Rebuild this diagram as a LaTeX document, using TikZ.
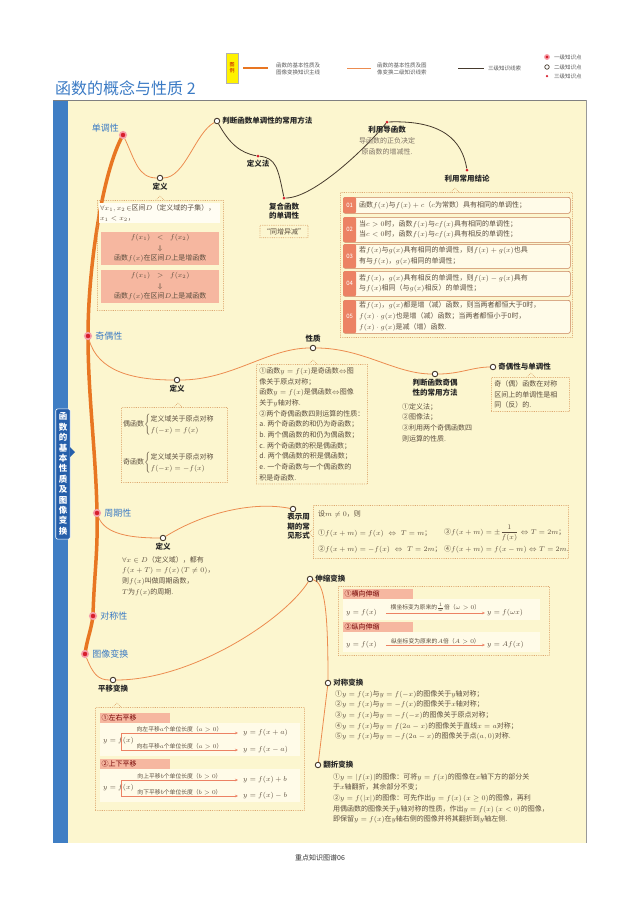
\documentclass[tikz,border=0pt]{standalone}
\usepackage{amsmath}
\usepackage{fontspec}
\setmainfont{Noto Sans CJK SC}
\usepackage{tikz}
\usetikzlibrary{positioning, arrows.meta}

\definecolor{panelbg}{RGB}{252,246,207}
\definecolor{bandblue}{RGB}{63,126,196}
\definecolor{tabblue}{RGB}{38,95,170}
\definecolor{titleblue}{RGB}{58,122,196}
\definecolor{mainor}{RGB}{232,118,34}
\definecolor{subor}{RGB}{236,140,80}
\definecolor{darkln}{RGB}{70,58,45}
\definecolor{redpt}{RGB}{215,30,45}
\definecolor{pinkpt}{RGB}{246,160,170}
\definecolor{txt}{RGB}{92,78,62}
\definecolor{dotc}{RGB}{214,150,90}
\definecolor{salmon}{RGB}{246,183,160}
\definecolor{salmonD}{RGB}{236,130,100}
\definecolor{cream}{RGB}{255,251,232}
\definecolor{itemdraw}{RGB}{200,130,90}

\newcommand{\bodysize}{\fontsize{7}{10.7}\selectfont}
\newcommand{\labsize}{\fontsize{7.5}{9.5}\selectfont\bfseries}

\pgfdeclarelayer{back}
\pgfdeclarelayer{lines}
\pgfsetlayers{back,lines,main}

\begin{document}
\begin{tikzpicture}[x=1pt, y=-1pt,
  lvone/.style={circle, minimum size=6.5pt, inner sep=0pt, fill=redpt, draw=pinkpt, line width=1.6pt},
  lvtwo/.style={circle, minimum size=5.5pt, inner sep=0pt, fill=white, draw=darkln, line width=0.9pt},
  lvthree/.style={circle, minimum size=3pt, inner sep=0pt, fill=redpt},
  onelab/.style={text=titleblue, font=\fontsize{9}{10}\selectfont, inner sep=1pt},
  lab/.style={text=black!85, font=\labsize, align=center, inner sep=1pt},
  body/.style={text=txt, font=\bodysize, align=left, inner sep=0pt},
  legtxt/.style={text=black!65, font=\fontsize{5.5}{6.8}\selectfont, align=left, inner sep=0pt},
  dotbox/.style={draw=dotc, line width=0.9pt, line cap=round, dash pattern=on 0pt off 1.8pt},
  mainline/.style={line width=3.5pt, draw=mainor, line cap=round},
  subline/.style={line width=0.8pt, draw=subor},
  thirdline/.style={line width=0.8pt, draw=darkln},
  arr/.style={-{Stealth[length=3pt,width=2.5pt]}, draw=salmonD, line width=0.6pt},
  arrlab/.style={text=txt, font=\fontsize{5.8}{7}\selectfont, inner sep=0.8pt},
  itembox/.style={anchor=north west, rounded corners=2pt, draw=itemdraw, line width=0.6pt, fill=cream, minimum width=227pt, inner sep=0pt},
  numcell/.style={anchor=north west, fill=salmonD, text=white, minimum width=13pt, inner sep=0pt, rounded corners=2pt, font=\fontsize{6}{7}\selectfont},
  headbar/.style={anchor=north west, fill=salmon, text=red!45!black, font=\bodysize, text width=67pt, inner sep=1.5pt, align=left},
  rowbar/.style={anchor=north west, fill=cream, inner sep=0pt}
]
\useasboundingbox (0,0) rectangle (640,898);

\begin{pgfonlayer}{back}
\fill[panelbg] (53,100) rectangle (586,843);
\fill[bandblue] (53,100) rectangle (68,843);
\draw[black!50, line width=0.8pt] (53,100) -- (587,100);
\draw[black!40, line width=0.6pt] (586,100) -- (586,843);
\end{pgfonlayer}

\node[fill=yellow, draw=black!30, line width=0.3pt, minimum width=12pt, minimum height=30pt, inner sep=0pt, align=center, text=red!75!black, font=\fontsize{5}{6}\selectfont] (legbox) at (232,68) {图\\例};
\draw[mainor, line width=2.5pt] (243,68) -- (268,68);
\node[legtxt, anchor=west] (legmain) at (276,69) {函数的基本性质及\\图像变换知识主线};
\draw[subline] (347,68) -- (371,68);
\node[legtxt, anchor=west] (legsub) at (377,69) {函数的基本性质及图\\像变换二级知识线索};
\draw[thirdline] (458,68) -- (484,68);
\node[legtxt, anchor=west] (legthird) at (488,68) {三级知识线索};
\node[lvone, minimum size=4.5pt, line width=1.3pt] (legone) at (547,57) {};
\node[legtxt, anchor=west] (legonet) at (554,57) {一级知识点};
\node[lvtwo, minimum size=4.5pt, line width=0.7pt] (legtwo) at (547,67) {};
\node[legtxt, anchor=west] (legtwot) at (554,67) {二级知识点};
\node[lvthree, minimum size=2.5pt] (legthree) at (547,76) {};
\node[legtxt, anchor=west] (legthreet) at (554,76) {三级知识点};

\node[anchor=west, text=titleblue, font=\fontsize{16}{18}\selectfont, inner sep=0pt] (title) at (55,88) {函数的概念与性质 2};

\node[fill=tabblue, draw=white, line width=0.6pt, rounded corners=2pt, text=white, font=\fontsize{8.5}{10.4}\selectfont\bfseries, align=center, inner xsep=3pt, inner ysep=4pt] (tab) at (63,474) {函\\数\\的\\基\\本\\性\\质\\及\\图\\像\\变\\换};
\fill[tabblue] (70,447) -- (75,452) -- (70,457) -- cycle;

\node[font=\fontsize{7}{8}\selectfont, text=black!80] (foot) at (320,858) {重点知识图谱06};

\node[lvone] (mono) at (123,135) {};
\node[onelab, above left=-1pt and 0pt of mono] (monolab) {单调性};
\node[lvone] (parity) at (88,336) {};
\node[onelab, right=2pt of parity] (paritylab) {奇偶性};
\node[lvone] (period) at (97,513) {};
\node[onelab, right=2pt of period] (periodlab) {周期性};
\node[lvone] (symm) at (93,616) {};
\node[onelab, right=2pt of symm] (symmlab) {对称性};
\node[lvone] (trans) at (85,654) {};
\node[onelab, right=2pt of trans] (translab) {图像变换};

\node[lvtwo] (monodef) at (160,178) {};
\node[lab, below=1pt of monodef] (monodeflab) {定义};
\node[lvtwo] (monojudge) at (217,121) {};
\node[lab, right=1pt of monojudge] (monojudgelab) {判断函数单调性的常用方法};
\node[lvthree] (defm) at (258,156) {};
\node[lab, below=1pt of defm] (defmlab) {定义法};
\node[lvthree] (comp) at (284,198) {};
\node[lab, below=2pt of comp] (complab) {复合函数\\的单调性};
\node[body, draw=dotc, line width=0.9pt, line cap=round, dash pattern=on 0pt off 1.8pt, inner sep=3pt, below=4pt of complab] (samebox) {“同增异减”};
\node[lvthree] (deriv) at (387,122) {};
\node[lab, below=1pt of deriv] (derivlab) {利用导函数};
\node[body, align=center, text=txt!80, below=3pt of derivlab] (derivtxt) {导函数的正负决定\\原函数的增减性.};
\node[lvthree] (concl) at (467,170) {};
\node[lab, below=2pt of concl] (concllab) {利用常用结论};

\node[dotbox, anchor=north west, minimum width=126pt, minimum height=110pt, inner sep=0pt] (monobox) at (97,200) {};
\draw[dotbox] (156,200) -- (160,196) -- (164,200);
\node[body, anchor=north west, fill=white!50!cream, text width=119pt, inner sep=1pt] (monoany) at (99,203) {$\forall x_1,x_2\!\in$区间$D$（定义域的子集），\\$x_1<x_2$，};
\node[body, anchor=north west, fill=salmon, align=center, text width=114pt, inner sep=2pt] (incbox) at (101,232) {$f(x_1)<f(x_2)$\\$\Downarrow$\\函数$f(x)$在区间$D$上是增函数};
\node[body, anchor=north west, fill=salmon, align=center, text width=114pt, inner sep=2pt] (decbox) at (101,270) {$f(x_1)>f(x_2)$\\$\Downarrow$\\函数$f(x)$在区间$D$上是减函数};

\node[dotbox, anchor=north west, minimum width=232pt, minimum height=145pt, inner sep=0pt] (conbox) at (340,192) {};
\draw[dotbox] (451,192) -- (455,188) -- (459,192);
\node[itembox, minimum height=16pt] (item1) at (343,197) {};
\node[numcell, minimum height=16pt] (num1) at (343,197) {01};
\node[body, anchor=west] (itemtxt1) at (359,205) {函数$f(x)$与$f(x)+c$（$c$为常数）具有相同的单调性；};
\node[itembox, minimum height=25pt] (item2) at (343,217) {};
\node[numcell, minimum height=25pt] (num2) at (343,217) {02};
\node[body, anchor=west] (itemtxt2) at (359,229.5) {当$c>0$时，函数$f(x)$与$cf(x)$具有相同的单调性；\\当$c<0$时，函数$f(x)$与$cf(x)$具有相反的单调性；};
\node[itembox, minimum height=24pt] (item3) at (343,244) {};
\node[numcell, minimum height=24pt] (num3) at (343,244) {03};
\node[body, anchor=west] (itemtxt3) at (359,256) {若$f(x)$与$g(x)$具有相同的单调性，则$f(x)+g(x)$也具\\有与$f(x)$，$g(x)$相同的单调性；};
\node[itembox, minimum height=25pt] (item4) at (343,271) {};
\node[numcell, minimum height=25pt] (num4) at (343,271) {04};
\node[body, anchor=west] (itemtxt4) at (359,283.5) {若$f(x)$，$g(x)$具有相反的单调性，则$f(x)-g(x)$具有\\与$f(x)$相同（与$g(x)$相反）的单调性；};
\node[itembox, minimum height=33pt] (item5) at (343,300) {};
\node[numcell, minimum height=33pt] (num5) at (343,300) {05};
\node[body, anchor=west] (itemtxt5) at (359,316.5) {若$f(x)$，$g(x)$都是增（减）函数，则当两者都恒大于0时，\\$f(x)\cdot g(x)$也是增（减）函数；当两者都恒小于0时，\\$f(x)\cdot g(x)$是减（增）函数.};

\node[lvtwo] (paritydef) at (177,380) {};
\node[lab, below=1pt of paritydef] (paritydeflab) {定义};
\node[lvtwo] (parityprop) at (313,348) {};
\node[lab, above=1pt of parityprop] (paritypropl) {性质};
\node[lvtwo] (parityjudge) at (435,374) {};
\node[lab, below=1pt of parityjudge] (parityjudgelab) {判断函数奇偶\\性的常用方法};
\node[body, anchor=north west] (parityjudgetxt) at (402,403) {①定义法；\\②图像法；\\③利用两个奇偶函数四\\则运算的性质.};
\node[lvtwo] (paritymono) at (493,367) {};
\node[lab, right=1pt of paritymono] (paritymonolab) {奇偶性与单调性};
\node[body, draw=dotc, line width=0.9pt, line cap=round, dash pattern=on 0pt off 1.8pt, anchor=north west, text width=72pt, inner sep=3pt] (paritymonobox) at (491,377) {奇（偶）函数在对称\\区间上的单调性是相\\同（反）的.};
\draw[dotbox] (527,377) -- (531,373) -- (535,377);

\node[dotbox, anchor=north west, minimum width=106pt, minimum height=75pt, inner sep=0pt] (paritydefbox) at (121,407) {};
\draw[dotbox] (174,407) -- (178,403) -- (182,407);
\node[body, anchor=west] (evenf) at (123,425) {偶函数$\left\{\begin{array}{@{}l@{}}\text{定义域关于原点对称}\\[1pt] f(-x)=f(x)\end{array}\right.$};
\node[body, anchor=west] (oddf) at (123,463) {奇函数$\left\{\begin{array}{@{}l@{}}\text{定义域关于原点对称}\\[1pt] f(-x)=-f(x)\end{array}\right.$};

\node[body, draw=dotc, line width=0.9pt, line cap=round, dash pattern=on 0pt off 1.8pt, anchor=north west, inner sep=3pt] (paritypropbox) at (256,364) {①函数$y=f(x)$是奇函数$\Leftrightarrow$图\\像关于原点对称；\\函数$y=f(x)$是偶函数$\Leftrightarrow$图像\\关于$y$轴对称.\\②两个奇偶函数四则运算的性质：\\a. 两个奇函数的和仍为奇函数；\\b. 两个偶函数的和仍为偶函数；\\c. 两个奇函数的积是偶函数；\\d. 两个偶函数的积是偶函数；\\e. 一个奇函数与一个偶函数的\\积是奇函数.};
\draw[dotbox] (309,364) -- (313,360) -- (317,364);

\node[lvtwo] (perioddef) at (163,538) {};
\node[lab, below=1pt of perioddef] (perioddeflab) {定义};
\node[body, anchor=north west] (perioddeftxt) at (122,556) {$\forall x\in D$（定义域），都有\\$f(x+T)=f(x)\,(T\neq0)$，\\则$f(x)$叫做周期函数，\\$T$为$f(x)$的周期.};
\node[lvtwo] (periodform) at (293,509) {};
\node[lab, align=left, below right=1pt and -9pt of periodform] (periodformlab) {表示周\\期的常\\见形式};

\node[dotbox, anchor=north west, minimum width=255pt, minimum height=53pt, inner sep=0pt] (periodbox) at (313,505) {};
\draw[dotbox] (313,529) -- (309,533) -- (313,537);
\node[body, anchor=west] (pset) at (318,514) {设$m\neq0$，则};
\node[body, anchor=west] (pf1) at (318,533) {①$f(x+m)=f(x)\;\Leftrightarrow\;T=m$；};
\node[body, anchor=west] (pf3) at (444,533) {③$f(x+m)=\pm\dfrac{1}{f(x)}\Leftrightarrow T=2m$；};
\node[body, anchor=west] (pf2) at (318,549) {②$f(x+m)=-f(x)\;\Leftrightarrow\;T=2m$；};
\node[body, anchor=west] (pf4) at (444,549) {④$f(x+m)=f(x-m)\Leftrightarrow T=2m$.};

\node[lvtwo] (shift) at (113,680) {};
\node[lab, below=1pt of shift] (shiftlab) {平移变换};
\node[lvtwo] (scale) at (310,579) {};
\node[lab, right=1pt of scale] (scalelab) {伸缩变换};
\node[lvtwo] (symtr) at (328,683) {};
\node[lab, right=1pt of symtr] (symtrlab) {对称变换};
\node[lvtwo] (flip) at (318,765) {};
\node[lab, right=1pt of flip] (fliplab) {翻折变换};

\node[dotbox, anchor=north west, minimum width=211pt, minimum height=69pt, inner sep=0pt] (scalebox) at (338,586) {};
\node[headbar] (hscale1) at (343,589) {①横向伸缩};
\node[rowbar, minimum width=197pt, minimum height=21pt] (rscale1) at (343,599) {};
\node[body, anchor=west] (yfa) at (346,613) {$y=f(x)$};
\node[body, anchor=west, inner xsep=2pt] (ywx) at (485,613) {$y=f(\omega x)$};
\draw[arr] ([xshift=9pt]yfa.east) -- (ywx) node[arrlab, midway, above] {横坐标变为原来的$\tfrac{1}{\omega}$倍（$\omega>0$）};
\node[headbar] (hscale2) at (343,622) {②纵向伸缩};
\node[rowbar, minimum width=197pt, minimum height=20pt] (rscale2) at (343,632) {};
\node[body, anchor=west] (yfb) at (346,645) {$y=f(x)$};
\node[body, anchor=west, inner xsep=2pt] (yaf) at (485,645) {$y=Af(x)$};
\draw[arr] ([xshift=9pt]yfb.east) -- (yaf) node[arrlab, midway, above] {纵坐标变为原来的$A$倍（$A>0$）};

\node[body, anchor=north west] (symtxt) at (335,690) {①$y=f(x)$与$y=f(-x)$的图像关于$y$轴对称；\\②$y=f(x)$与$y=-f(x)$的图像关于$x$轴对称；\\③$y=f(x)$与$y=-f(-x)$的图像关于原点对称；\\④$y=f(x)$与$y=f(2a-x)$的图像关于直线$x=a$对称；\\⑤$y=f(x)$与$y=-f(2a-x)$的图像关于点$(a,0)$对称.};
\node[body, anchor=north west] (fliptxt) at (333,773) {①$y=|f(x)|$的图像：可将$y=f(x)$的图像在$x$轴下方的部分关\\于$x$轴翻折，其余部分不变；\\②$y=f(|x|)$的图像：可先作出$y=f(x)\,(x\geq0)$的图像，再利\\用偶函数的图像关于$y$轴对称的性质，作出$y=f(x)\,(x<0)$的图像，\\即保留$y=f(x)$在$y$轴右侧的图像并将其翻折到$y$轴左侧.};

\node[dotbox, anchor=north west, minimum width=209pt, minimum height=103pt, inner sep=0pt] (shiftbox) at (95,707) {};
\draw[dotbox] (113,707) -- (117,703) -- (121,707);
\node[headbar] (hshift1) at (100,713) {①左右平移};
\node[rowbar, minimum width=200pt, minimum height=33pt] (rshift1) at (100,723) {};
\node[body, anchor=west] (yfc) at (103,741) {$y=f(x)$};
\coordinate (forkla) at (121,733);
\coordinate (forklb) at (121,750);
\node[body, anchor=west, inner xsep=5pt] (ylft) at (238,733) {$y=f(x+a)$};
\node[body, anchor=west, inner xsep=5pt] (yrgt) at (238,750) {$y=f(x-a)$};
\draw[salmonD, line width=0.6pt] (forkla) -- (forklb);
\draw[arr] (forkla) -- (ylft) node[arrlab, midway, above] {向左平移$a$个单位长度（$a>0$）};
\draw[arr] (forklb) -- (yrgt) node[arrlab, midway, above] {向右平移$a$个单位长度（$a>0$）};
\node[headbar] (hshift2) at (100,759) {②上下平移};
\node[rowbar, minimum width=200pt, minimum height=33pt] (rshift2) at (100,769) {};
\node[body, anchor=west] (yfd) at (103,788) {$y=f(x)$};
\coordinate (forkua) at (121,780);
\coordinate (forkub) at (121,796);
\node[body, anchor=west, inner xsep=5pt] (yup) at (238,780) {$y=f(x)+b$};
\node[body, anchor=west, inner xsep=5pt] (ydn) at (238,796) {$y=f(x)-b$};
\draw[salmonD, line width=0.6pt] (forkua) -- (forkub);
\draw[arr] (forkua) -- (yup) node[arrlab, midway, above] {向上平移$b$个单位长度（$b>0$）};
\draw[arr] (forkub) -- (ydn) node[arrlab, midway, above] {向下平移$b$个单位长度（$b>0$）};

\begin{pgfonlayer}{lines}
\draw[mainline] (mono.center) .. controls +(-20,35) and +(0,-70) .. (parity.center) .. controls +(0,60) and +(-1,-60) .. (period.center) .. controls +(1,40) and +(1,-40) .. (symm.center) .. controls +(-2,15) and +(2,-15) .. (trans.center);
\draw[subline] (mono) .. controls +(12,25) and +(-22,0) .. (monodef) .. controls +(25,0) and +(-22,12) .. (monojudge);
\draw[thirdline] (monojudge) .. controls +(12,22) and +(-18,-3) .. (defm) .. controls +(18,2) and +(-6,-30) .. (comp) .. controls +(30,0) and +(-20,25) .. (deriv) .. controls +(55,-2) and +(-5,-30) .. (concl);
\draw[subline] (parity) .. controls +(10,35) and +(-45,0) .. (paritydef) .. controls +(55,0) and +(-45,0) .. (parityprop) .. controls +(50,0) and +(-40,0) .. (parityjudge) .. controls +(25,0) and +(-20,0) .. (paritymono);
\draw[subline] (period) .. controls +(8,22) and +(-30,0) .. (perioddef) .. controls +(40,-25) and +(-40,-8) .. (periodform);
\draw[subline] (trans) .. controls +(8,20) and +(-15,0) .. (shift) .. controls +(80,0) and +(-25,40) .. (scale) .. controls +(15,3) and +(0,-70) .. (symtr) -- (flip);
\end{pgfonlayer}
\end{tikzpicture}
\end{document}
